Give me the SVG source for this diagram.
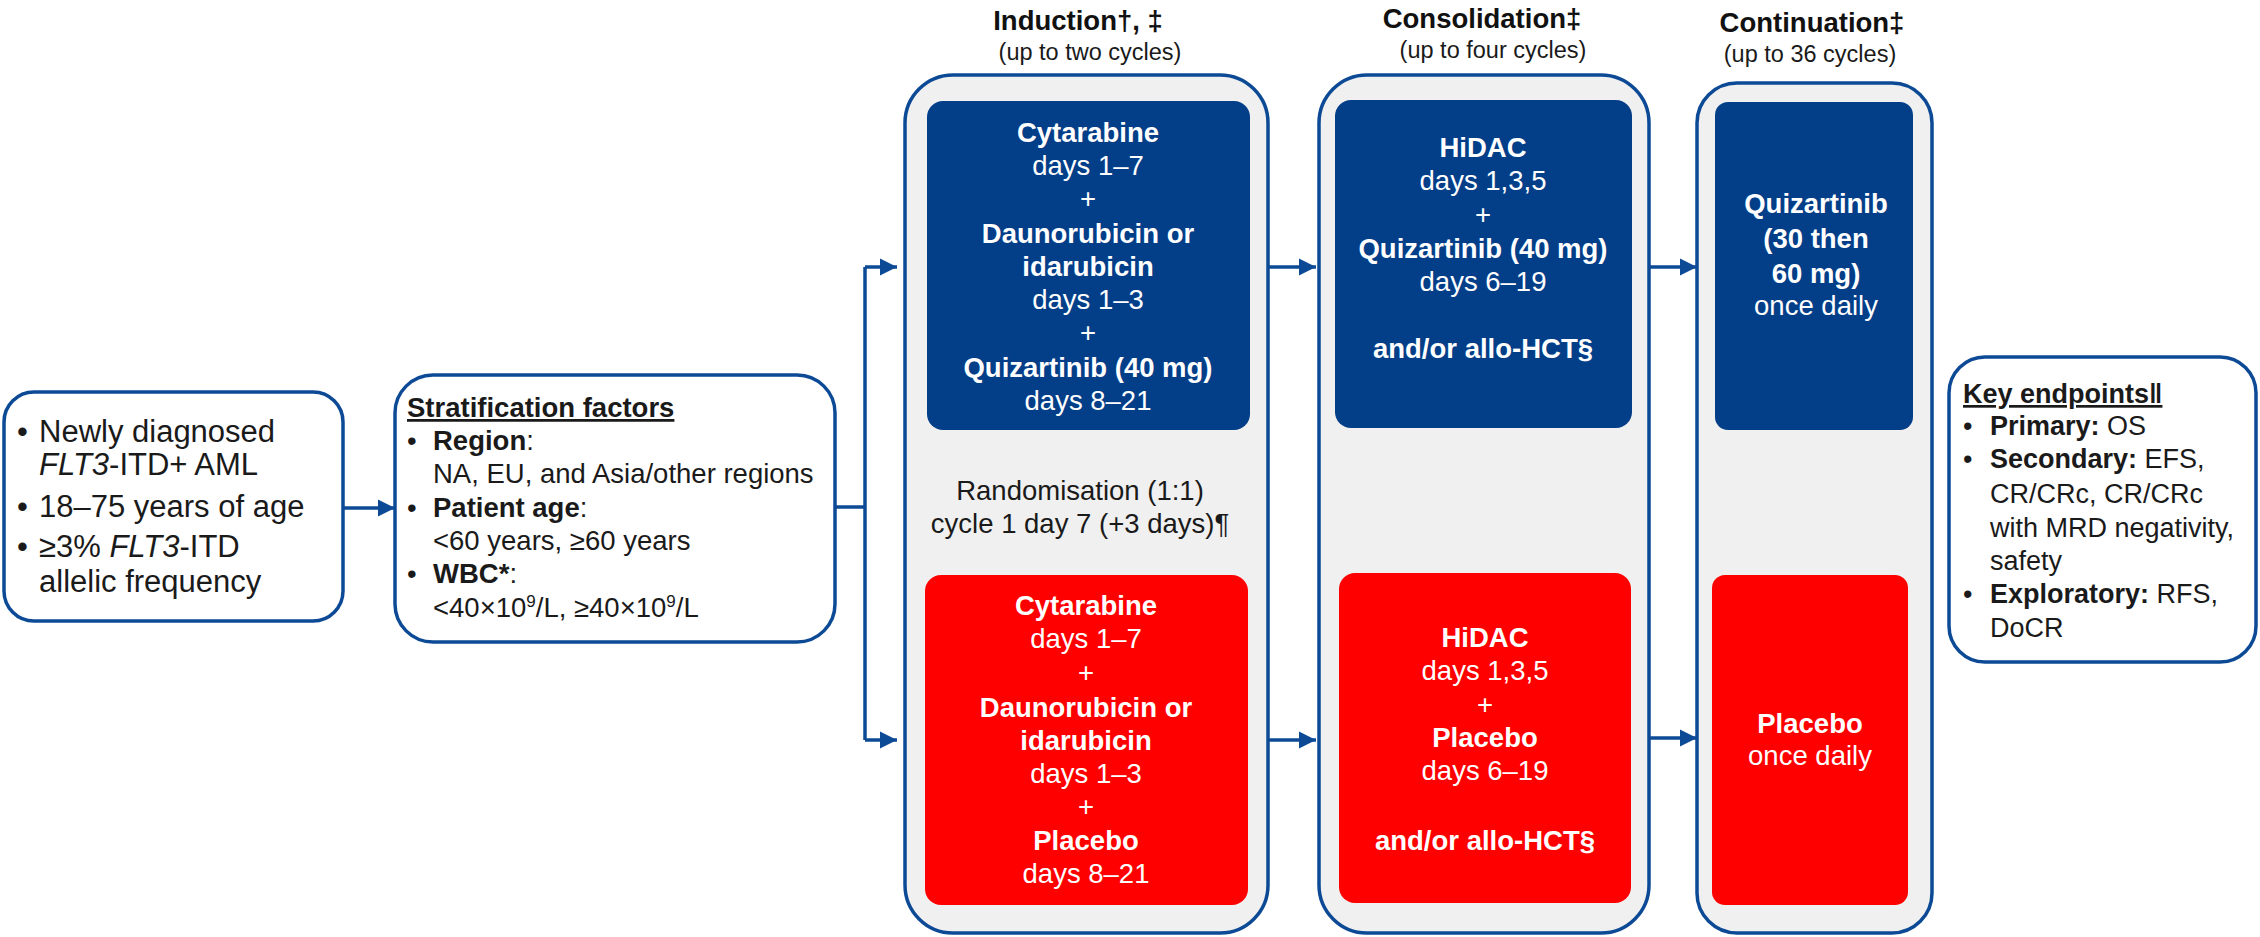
<svg xmlns="http://www.w3.org/2000/svg" width="2260" height="937" viewBox="0 0 2260 937">
  <style>
    text { font-family: "Liberation Sans", Arial, sans-serif; }
    .dark { fill: #1a1a1a; }
    .w { fill: #ffffff; text-anchor: middle; font-size: 27.5px; }
    .b { font-weight: bold; }
    .hd { fill: #111; font-weight: bold; font-size: 27.5px; text-anchor: middle; }
    .sub { fill: #1a1a1a; font-size: 23.5px; text-anchor: middle; }
    .card { fill: #ffffff; stroke: #0d4a96; stroke-width: 3.5; }
    .phase { fill: #f0f0f0; stroke: #0d4a96; stroke-width: 3.5; }
    .arm1 { fill: #033e89; }
    .arm2 { fill: #ff0000; }
    .conn { fill: none; stroke: #0d4a96; stroke-width: 3.5; }
  </style>
  <defs>
    <marker id="arr" viewBox="0 0 10 10" refX="10" refY="5" markerWidth="5" markerHeight="5" markerUnits="strokeWidth" orient="auto">
      <path d="M0,0 L10,5 L0,10 z" fill="#0d4a96"/>
    </marker>
  </defs>

  <!-- Phase headings -->
  <g id="headings">
    <text class="hd" x="1078" y="30">Induction†, ‡</text>
    <text class="sub" x="1090" y="60">(up to two cycles)</text>
    <text class="hd" x="1482" y="28">Consolidation‡</text>
    <text class="sub" x="1493" y="58">(up to four cycles)</text>
    <text class="hd" x="1812" y="32">Continuation‡</text>
    <text class="sub" x="1810" y="62">(up to 36 cycles)</text>
  </g>

  <!-- Eligibility -->
  <g id="eligibility">
    <rect class="card" x="4" y="392" width="339" height="229" rx="30"/>
    <g class="dark" font-size="31">
      <text x="17" y="442">•</text>
      <text x="39" y="442">Newly diagnosed</text>
      <text x="39" y="475"><tspan font-style="italic">FLT3</tspan>-ITD+ AML</text>
      <text x="17" y="517">•</text>
      <text x="39" y="517">18–75 years of age</text>
      <text x="17" y="557">•</text>
      <text x="39" y="557">≥3% <tspan font-style="italic">FLT3</tspan>-ITD</text>
      <text x="39" y="592">allelic frequency</text>
    </g>
  </g>

  <!-- Stratification -->
  <g id="stratification">
    <rect class="card" x="395" y="375" width="440" height="267" rx="38"/>
    <g class="dark" font-size="27.5">
      <text x="407" y="417" font-weight="bold" text-decoration="underline">Stratification factors</text>
      <text x="407" y="450">•</text>
      <text x="433" y="450"><tspan font-weight="bold">Region</tspan>:</text>
      <text x="433" y="483">NA, EU, and Asia/other regions</text>
      <text x="407" y="517">•</text>
      <text x="433" y="517"><tspan font-weight="bold">Patient age</tspan>:</text>
      <text x="433" y="550">&lt;60 years, ≥60 years</text>
      <text x="407" y="583">•</text>
      <text x="433" y="583"><tspan font-weight="bold">WBC*</tspan>:</text>
      <text x="433" y="617">&lt;40×10<tspan dy="-10" font-size="17">9</tspan><tspan dy="10">/L, ≥40×10</tspan><tspan dy="-10" font-size="17">9</tspan><tspan dy="10">/L</tspan></text>
    </g>
  </g>

  <!-- Induction -->
  <g id="induction">
    <rect class="phase" x="905" y="75" width="363" height="858" rx="48"/>
    <rect class="arm1" x="927" y="101" width="323" height="329" rx="16"/>
    <text class="w b" x="1088" y="142">Cytarabine</text>
    <text class="w" x="1088" y="175">days 1–7</text>
    <text class="w" x="1088" y="208">+</text>
    <text class="w b" x="1088" y="243">Daunorubicin or</text>
    <text class="w b" x="1088" y="276">idarubicin</text>
    <text class="w" x="1088" y="309">days 1–3</text>
    <text class="w" x="1088" y="342">+</text>
    <text class="w b" x="1088" y="377">Quizartinib (40 mg)</text>
    <text class="w" x="1088" y="410">days 8–21</text>

    <text class="dark" font-size="27.5" text-anchor="middle" x="1080" y="500">Randomisation (1:1)</text>
    <text class="dark" font-size="27.5" text-anchor="middle" x="1080" y="533">cycle 1 day 7 (+3 days)¶</text>

    <rect class="arm2" x="925" y="575" width="323" height="330" rx="16"/>
    <text class="w b" x="1086" y="615">Cytarabine</text>
    <text class="w" x="1086" y="648">days 1–7</text>
    <text class="w" x="1086" y="682">+</text>
    <text class="w b" x="1086" y="717">Daunorubicin or</text>
    <text class="w b" x="1086" y="750">idarubicin</text>
    <text class="w" x="1086" y="783">days 1–3</text>
    <text class="w" x="1086" y="816">+</text>
    <text class="w b" x="1086" y="850">Placebo</text>
    <text class="w" x="1086" y="883">days 8–21</text>
  </g>

  <!-- Consolidation -->
  <g id="consolidation">
    <rect class="phase" x="1319" y="75" width="330" height="858" rx="48"/>
    <rect class="arm1" x="1335" y="100" width="297" height="328" rx="16"/>
    <text class="w b" x="1483" y="157">HiDAC</text>
    <text class="w" x="1483" y="190">days 1,3,5</text>
    <text class="w" x="1483" y="224">+</text>
    <text class="w b" x="1483" y="258">Quizartinib (40 mg)</text>
    <text class="w" x="1483" y="291">days 6–19</text>
    <text class="w b" x="1483" y="358">and/or allo-HCT§</text>

    <rect class="arm2" x="1339" y="573" width="292" height="330" rx="16"/>
    <text class="w b" x="1485" y="647">HiDAC</text>
    <text class="w" x="1485" y="680">days 1,3,5</text>
    <text class="w" x="1485" y="714">+</text>
    <text class="w b" x="1485" y="747">Placebo</text>
    <text class="w" x="1485" y="780">days 6–19</text>
    <text class="w b" x="1485" y="850">and/or allo-HCT§</text>
  </g>

  <!-- Continuation -->
  <g id="continuation">
    <rect class="phase" x="1697" y="83" width="235" height="850" rx="40"/>
    <rect class="arm1" x="1715" y="102" width="198" height="328" rx="13"/>
    <text class="w b" x="1816" y="213">Quizartinib</text>
    <text class="w b" x="1816" y="248">(30 then</text>
    <text class="w b" x="1816" y="283">60 mg)</text>
    <text class="w" x="1816" y="315">once daily</text>

    <rect class="arm2" x="1712" y="575" width="196" height="330" rx="13"/>
    <text class="w b" x="1810" y="733">Placebo</text>
    <text class="w" x="1810" y="765">once daily</text>
  </g>

  <!-- Endpoints -->
  <g id="endpoints">
    <rect class="card" x="1949" y="357" width="307" height="305" rx="36"/>
    <g class="dark" font-size="27">
      <text x="1963" y="403" font-weight="bold" text-decoration="underline">Key endpoints‖</text>
      <text x="1963" y="435">•</text>
      <text x="1990" y="435"><tspan font-weight="bold">Primary:</tspan> OS</text>
      <text x="1963" y="468">•</text>
      <text x="1990" y="468"><tspan font-weight="bold">Secondary:</tspan> EFS,</text>
      <text x="1990" y="503">CR/CRc, CR/CRc</text>
      <text x="1990" y="537">with MRD negativity,</text>
      <text x="1990" y="570">safety</text>
      <text x="1963" y="603">•</text>
      <text x="1990" y="603"><tspan font-weight="bold">Exploratory:</tspan> RFS,</text>
      <text x="1990" y="637">DoCR</text>
    </g>
  </g>

  <!-- Connectors -->
  <g id="connectors">
    <line class="conn" x1="343" y1="508" x2="395" y2="508" marker-end="url(#arr)"/>
    <path class="conn" d="M835,507 H865"/>
    <path class="conn" d="M865,267 V740"/>
    <line class="conn" x1="865" y1="267" x2="897" y2="267" marker-end="url(#arr)"/>
    <line class="conn" x1="865" y1="740" x2="897" y2="740" marker-end="url(#arr)"/>
    <line class="conn" x1="1268" y1="267" x2="1316" y2="267" marker-end="url(#arr)"/>
    <line class="conn" x1="1268" y1="740" x2="1316" y2="740" marker-end="url(#arr)"/>
    <line class="conn" x1="1649" y1="267" x2="1697" y2="267" marker-end="url(#arr)"/>
    <line class="conn" x1="1649" y1="738" x2="1697" y2="738" marker-end="url(#arr)"/>
  </g>
</svg>
